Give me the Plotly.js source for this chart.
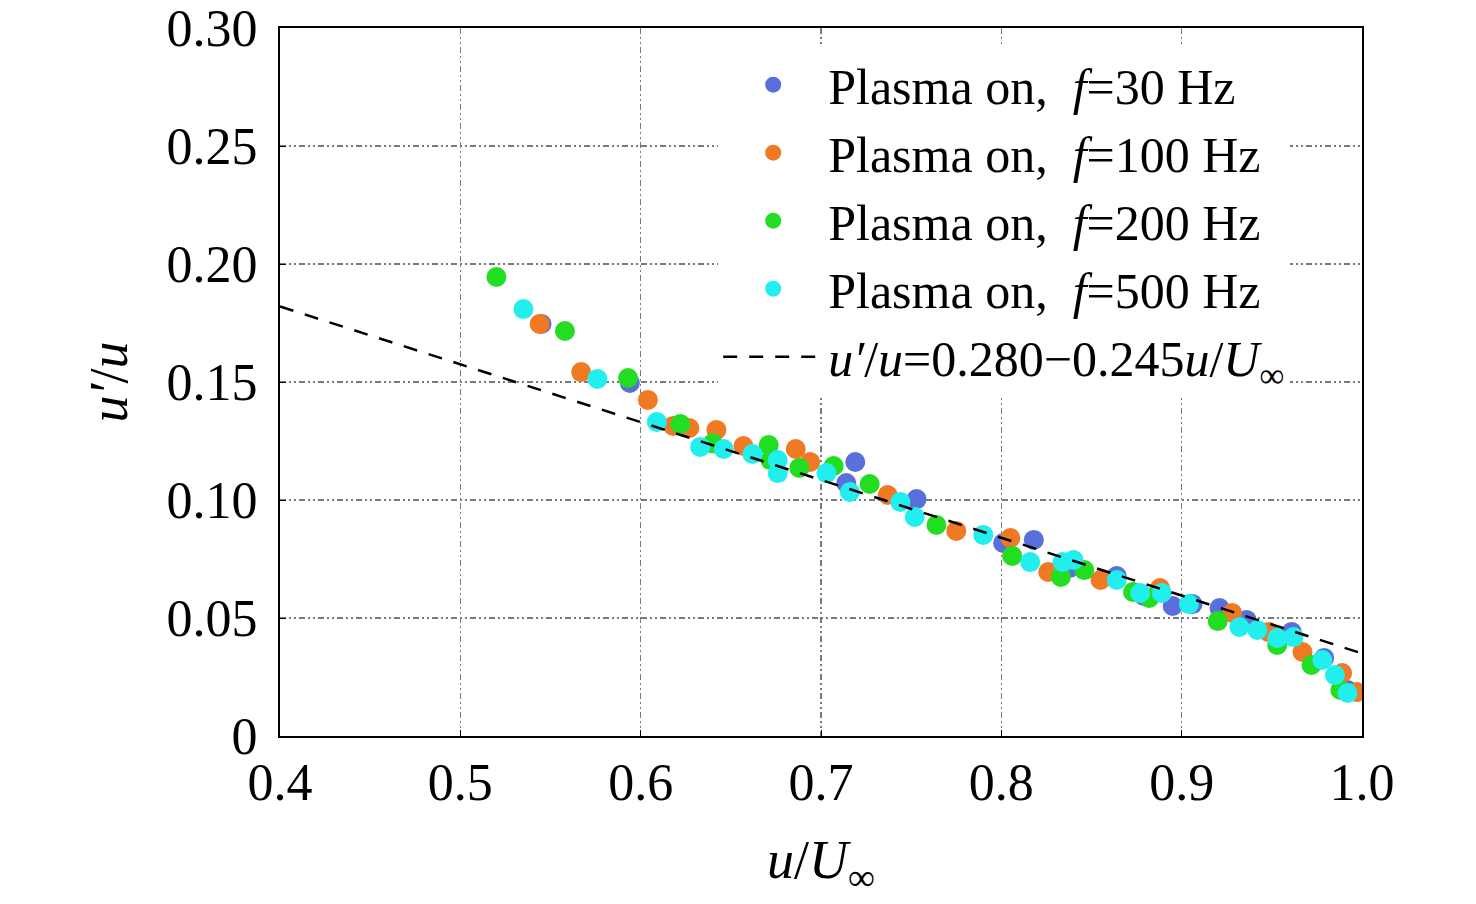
<!DOCTYPE html>
<html>
<head>
<meta charset="utf-8">
<script src="https://cdn.plot.ly/plotly-3.0.1.min.js"></script>
<style>
  html, body { margin: 0; padding: 0; background: #fff; }
  #chart { width: 1476px; height: 904px; }
</style>
</head>
<body>
<div id="chart"></div>
<script>
// Values
const x30 = [0.545, 0.594, 0.719, 0.714, 0.753, 0.801, 0.818, 0.838, 0.864, 0.879, 0.895, 0.906, 0.921, 0.936, 0.961, 0.979, 0.992];
const y30 = [0.1746, 0.1496, 0.1161, 0.1072, 0.1004, 0.0818, 0.0831, 0.0712, 0.0678, 0.0593, 0.0551, 0.0559, 0.0542, 0.0492, 0.0441, 0.0331, 0.0195];

const x100 = [0.544, 0.567, 0.604, 0.618, 0.627, 0.642, 0.657, 0.686, 0.694, 0.737, 0.775, 0.805, 0.826, 0.855, 0.888, 0.928, 0.948, 0.967, 0.989, 0.997];
const y100 = [0.1746, 0.1542, 0.1424, 0.1314, 0.1305, 0.1297, 0.1229, 0.1216, 0.1161, 0.1021, 0.0869, 0.0839, 0.0695, 0.0661, 0.0627, 0.0521, 0.0441, 0.0356, 0.0267, 0.0186];

const x200 = [0.520, 0.558, 0.593, 0.622, 0.640, 0.671, 0.672, 0.688, 0.707, 0.727, 0.764, 0.806, 0.833, 0.846, 0.873, 0.882, 0.920, 0.953, 0.972, 0.988];
const y200 = [0.1945, 0.1716, 0.1517, 0.1322, 0.1240, 0.1233, 0.1169, 0.1136, 0.1144, 0.1068, 0.0894, 0.0763, 0.0674, 0.0703, 0.0610, 0.0585, 0.0487, 0.0386, 0.0301, 0.0195];

const x500 = [0.535, 0.576, 0.609, 0.633, 0.646, 0.662, 0.676, 0.676, 0.703, 0.716, 0.744, 0.752, 0.790, 0.816, 0.834, 0.840, 0.864, 0.877, 0.889, 0.904, 0.932, 0.942, 0.953, 0.962, 0.978, 0.985, 0.992];
const y500 = [0.1809, 0.1513, 0.1331, 0.1225, 0.1216, 0.1195, 0.1169, 0.1114, 0.1114, 0.1034, 0.0992, 0.0928, 0.0852, 0.0737, 0.0737, 0.0746, 0.0661, 0.0606, 0.0606, 0.0559, 0.0462, 0.0449, 0.0415, 0.0419, 0.0322, 0.0258, 0.0182];

// Fit line end points (u'/u = 0.280 - 0.245 u/U)
const fitX = [0.4, 1.0];
const fitY = [0.182, 0.035];

const xTicks = [0.4, 0.5, 0.6, 0.7, 0.8, 0.9, 1.0];
const xTickText = ['0.4', '0.5', '0.6', '0.7', '0.8', '0.9', '1.0'];
const yTicks = [0, 0.05, 0.10, 0.15, 0.20, 0.25, 0.30];
const yTickText = ['0', '0.05', '0.10', '0.15', '0.20', '0.25', '0.30'];

const font = 'Liberation Serif, Times New Roman, serif';

function scatter(x, y, name, color) {
  return {
    x, y, name,
    mode: 'markers',
    type: 'scatter',
    marker: { size: 20, color: color },
  };
}

const data = [
  scatter(x30, y30, 'Plasma on,  <i>f</i>=30 Hz', '#5b6fdc'),
  scatter(x100, y100, 'Plasma on,  <i>f</i>=100 Hz', '#f07a24'),
  scatter(x200, y200, 'Plasma on,  <i>f</i>=200 Hz', '#22dd22'),
  scatter(x500, y500, 'Plasma on,  <i>f</i>=500 Hz', '#22eeee'),
  {
    x: fitX, y: fitY,
    name: '<i>u′</i>/<i>u</i>=0.280−0.245<i>u</i>/<i>U</i><sub>∞</sub>',
    mode: 'lines',
    type: 'scatter',
    line: { color: '#000', width: 2.5, dash: '14px,12px' },
  },
];

const gridStyle = {
  showgrid: true,
  gridcolor: '#7a7a7a',
  gridwidth: 1.5,
  griddash: '6px,3px,2px,3px,2px,3px',
  zeroline: false,
  showline: true,
  linecolor: '#000',
  linewidth: 2,
  mirror: true,
  ticks: 'inside',
  ticklen: 6,
  tickcolor: '#000',
  tickfont: { family: font, size: 52, color: '#000' },
};

const layout = {
  width: 1476,
  height: 904,
  margin: { l: 280, r: 114, t: 28, b: 168 },
  paper_bgcolor: '#fff',
  plot_bgcolor: '#fff',
  font: { family: font, color: '#000' },
  showlegend: true,
  legend: {
    x: 0.405,
    y: 0.975,
    xanchor: 'left',
    yanchor: 'top',
    bgcolor: '#fff',
    font: { family: font, size: 50, color: '#000' },
    tracegroupgap: 0,
    itemwidth: 100,
  },
  xaxis: Object.assign({}, gridStyle, {
    range: [0.4, 1.0],
    tickvals: xTicks,
    ticktext: xTickText,
    title: { text: '<i>u</i>/<i>U</i><sub>∞</sub>', font: { family: font, size: 54 }, standoff: 30 },
  }),
  yaxis: Object.assign({}, gridStyle, {
    range: [0, 0.30],
    tickvals: yTicks,
    ticktext: yTickText,
    ticklabelstandoff: 10,
    title: { text: '<i>u′</i>/<i>u</i>', font: { family: font, size: 54 }, standoff: 22 },
  }),
};

Plotly.newPlot('chart', data, layout, { staticPlot: true });
</script>
</body>
</html>
